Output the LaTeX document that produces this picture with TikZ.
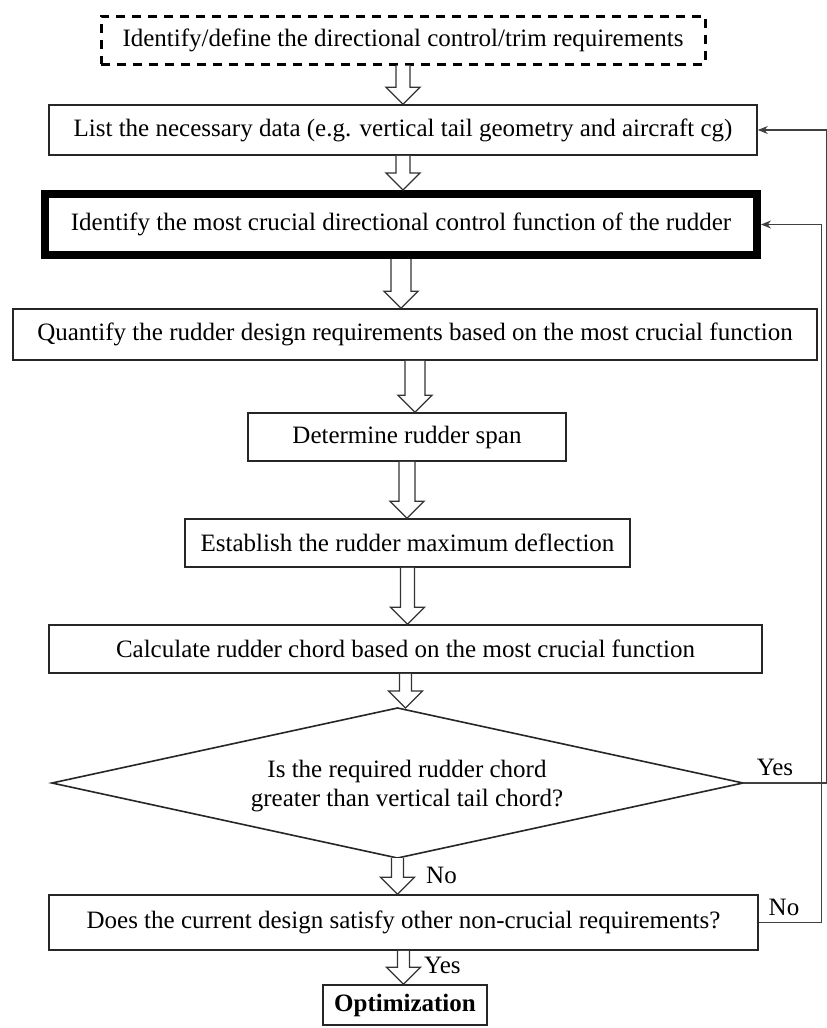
\documentclass[tikz,border=0pt]{standalone}
\usepackage{fontspec}
\setmainfont{Liberation Serif}
\usetikzlibrary{calc,arrows.meta,shapes.geometric}
\begin{document}
\begin{tikzpicture}[x=1pt,y=-1pt,
  box/.style={draw=black!85,line width=1.6pt,inner sep=0pt,font=\fontsize{25}{29}\selectfont},
  lbl/.style={font=\fontsize{25}{29}\selectfont,inner sep=0pt},
  fb/.style={draw=black!75,line width=1.2pt},
  fbarr/.style={fb,-{Stealth[length=10pt,width=8pt]}},
  barrow/.style={draw=black!80,line width=1.3pt,fill=white,
    to path={let \p1=(\tikztostart), \p2=(\tikztotarget) in
      (\x1-#1pt,\y1) -- (\x1-#1pt,\y2+17pt) -- (\x1-17pt,\y2+17pt) -- (\x1,\y2)
      -- (\x1+17pt,\y2+17pt) -- (\x1+#1pt,\y2+17pt) -- (\x1+#1pt,\y1)}}]
\useasboundingbox (0,0) rectangle (827,1028);
\fill[white] (0,0) rectangle (827,1028);

\node[box,draw=black,line width=3pt,dash pattern=on 9pt off 7pt,minimum width=604pt,minimum height=48pt] (d) at (403,40) {Identify/define the directional control/trim requirements};
\node[box,minimum width=708pt,minimum height=50pt] (l) at (403,130) {List the necessary data (e.g. vertical tail geometry and aircraft cg)};
\node[box,draw=black,line width=8pt,minimum width=712pt,minimum height=61pt] (b) at (401,224.5) {Identify the most crucial directional control function of the rudder};
\node[box,minimum width=804pt,minimum height=51pt] (q) at (415,334.5) {Quantify the rudder design requirements based on the most crucial function};
\node[box,minimum width=318pt,minimum height=48pt] (s) at (407,437) {Determine rudder span};
\node[box,minimum width=445pt,minimum height=48pt] (e) at (407.5,543) {Establish the rudder maximum deflection};
\node[box,minimum width=713pt,minimum height=48pt] (c) at (405.5,649) {Calculate rudder chord based on the most crucial function};
\node[diamond,draw=black!85,line width=1.6pt,minimum width=691pt,minimum height=150pt,inner sep=0pt,outer sep=0pt] (g) at (397.5,783) {};
\node[lbl,align=center] (gt) at (407,786) {Is the required rudder chord\\greater than vertical tail chord?};
\node[box,minimum width=709pt,minimum height=55pt] (n) at (403.5,922.5) {Does the current design satisfy other non-crucial requirements?};
\node[box,minimum width=164pt,minimum height=40pt,font=\fontsize{25}{29}\selectfont\bfseries] (o) at (405,1005) {Optimization};

\draw[barrow=7] (d.south) to (l.north);
\draw[barrow=7] (l.south) to (b.north);
\draw[barrow=10] (b.south) to (q.north);
\draw[barrow=10] (q.south) to (s.north);
\draw[barrow=8] (s.south) to (e.north);
\draw[barrow=7] (e.south) to (c.north);
\draw[barrow=6] (c.south) to (g.north);
\draw[barrow=6] (g.south) to (n.north);
\draw[barrow=6] (n.south) to (o.north);

\node[lbl,anchor=west] (no1) at (426,875) {No};
\node[lbl,anchor=west] (yes2) at (424,965) {Yes};
\node[lbl] (yes1) at (775,767) {Yes};
\node[lbl] (no2) at (784,907) {No};

\coordinate (r1) at (826.5,0);
\coordinate (r2) at (821.5,0);
\draw[fbarr] (g.east) -- (g.east -| r1) -- (l.east -| r1) -- (l.east);
\draw[fbarr] (n.east) -- (n.east -| r2) -- (b.east -| r2) -- (b.east);
\end{tikzpicture}
\end{document}
